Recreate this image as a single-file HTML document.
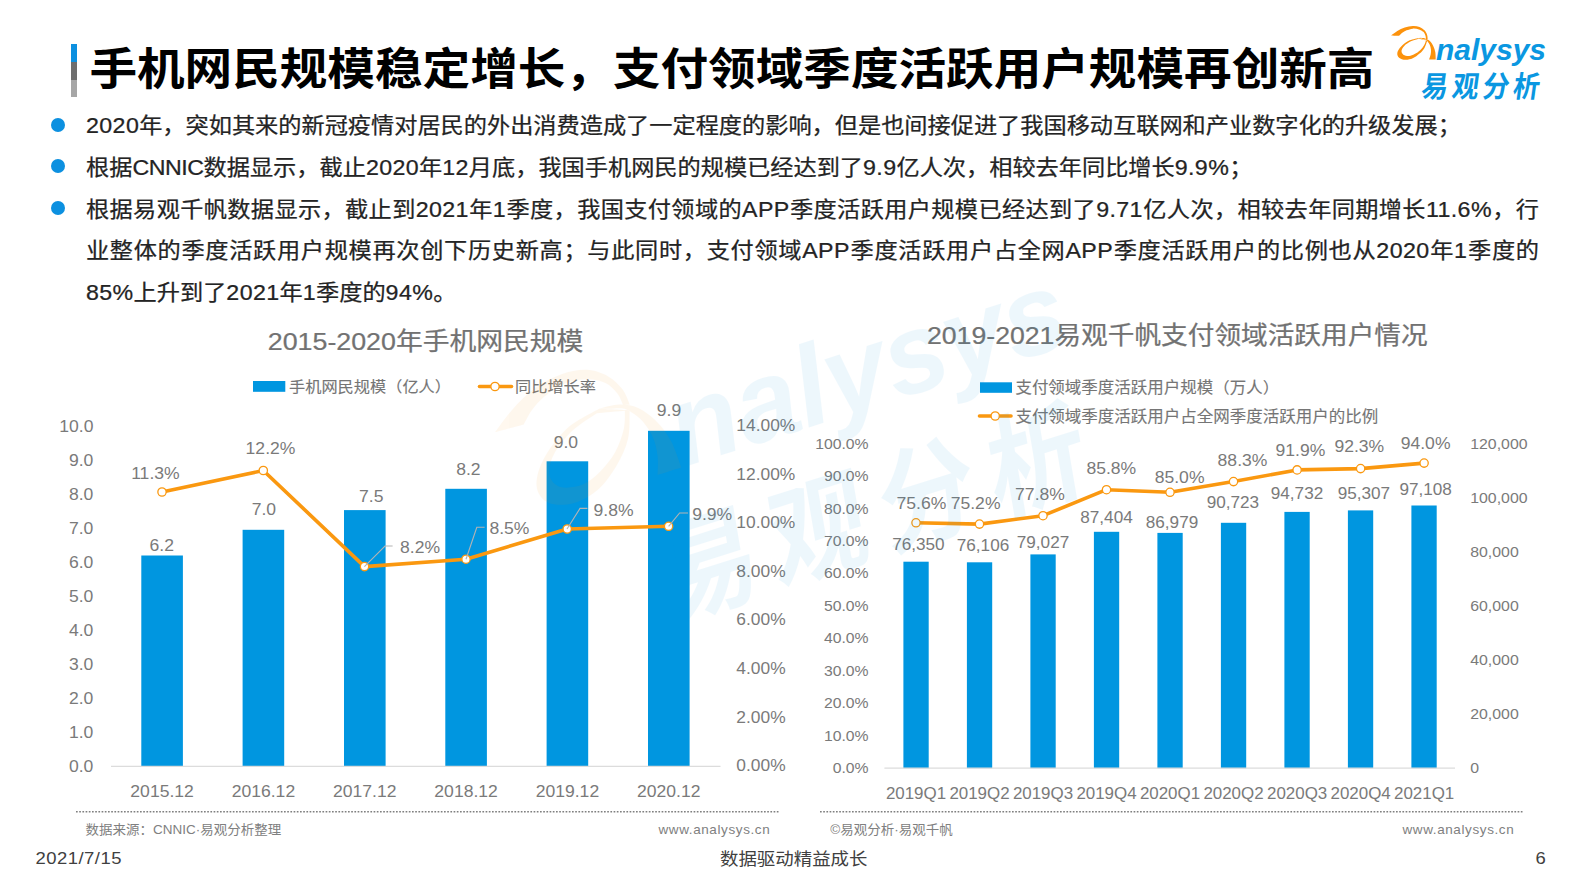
<!DOCTYPE html>
<html lang="zh-CN"><head><meta charset="utf-8"><title>手机网民规模稳定增长</title>
<style>
html,body{margin:0;padding:0;background:#fff;}
body{width:1587px;height:892px;position:relative;overflow:hidden;font-family:"Liberation Sans", "Noto Sans CJK SC", sans-serif;}
.abs{position:absolute;white-space:nowrap;}
#title{left:89.4px;top:35.3px;font-size:47.6px;font-weight:bold;color:#000;line-height:70px;transform:scale(1,0.932);transform-origin:0 50%;}
.bar{position:absolute;left:71px;width:6px;}
.bul{position:absolute;left:50.7px;width:14px;height:14px;border-radius:50%;background:#0C90E0;}
.p{position:absolute;left:86px;width:1453px;font-size:23.2px;line-height:41.7px;color:#242424;-webkit-text-stroke:0.26px #242424;white-space:nowrap;transform:scaleY(0.945);transform-origin:0 50%;}
.j{text-align:justify;text-align-last:justify;}
.l{letter-spacing:0.4px;}
svg text{font-family:"Liberation Sans", "Noto Sans CJK SC", sans-serif;}
.foot{font-size:18.45px;color:#404040;line-height:24px;transform:scaleY(0.94);}
.src{font-size:13.5px;color:#808080;line-height:18px;transform:scaleY(0.96);}
</style></head><body>
<div class="bar" style="top:44px;height:18px;background:#0C90E0"></div>
<div class="bar" style="top:62px;height:17.5px;background:#6E6E6E"></div>
<div class="bar" style="top:79.5px;height:17.5px;background:#A6A6A6"></div>
<div id="title" class="abs">手机网民规模稳定增长，支付领域季度活跃用户规模再创新高</div>
<div class="bul" style="top:117.7px"></div>
<div class="bul" style="top:159px"></div>
<div class="bul" style="top:201px"></div>
<div class="p" style="top:105.2px"><span class="l">2020</span>年，突如其来的新冠疫情对居民的外出消费造成了一定程度的影响，但是也间接促进了我国移动互联网和产业数字化的升级发展；</div>
<div class="p" style="top:146.9px">根据<span style="letter-spacing:-0.45px">CNNIC</span>数据显示，截止<span class="l">2020</span>年<span class="l">12</span>月底，我国手机网民的规模已经达到了<span class="l">9.9</span>亿人次，相较去年同比增长<span class="l">9.9%</span>；</div>
<div class="p j" style="top:188.6px">根据易观千帆数据显示，截止到<span class="l">2021</span>年<span class="l">1</span>季度，我国支付领域的<span class="l">APP</span>季度活跃用户规模已经达到了<span class="l">9.71</span>亿人次，相较去年同期增长<span class="l">11.6%</span>，行</div>
<div class="p j" style="top:230.3px">业整体的季度活跃用户规模再次创下历史新高；与此同时，支付领域<span class="l">APP</span>季度活跃用户占全网<span class="l">APP</span>季度活跃用户的比例也从<span class="l">2020</span>年<span class="l">1</span>季度的</div>
<div class="p" style="top:272px"><span class="l">85%</span>上升到了<span class="l">2021</span>年<span class="l">1</span>季度的<span class="l">94%</span>。</div>
<svg class="abs" style="left:0;top:0" width="1587" height="892" viewBox="0 0 1587 892" fill="#757575">
<rect x="141.3" y="555.5" width="41.6" height="210.9" fill="#0096E0"/>
<rect x="242.6" y="529.8" width="41.6" height="236.6" fill="#0096E0"/>
<rect x="344.0" y="510.1" width="41.6" height="256.3" fill="#0096E0"/>
<rect x="445.3" y="488.8" width="41.6" height="277.6" fill="#0096E0"/>
<rect x="546.6" y="461.3" width="41.6" height="305.1" fill="#0096E0"/>
<rect x="648.0" y="430.8" width="41.6" height="335.6" fill="#0096E0"/>
<line x1="111" y1="766.4" x2="720.5" y2="766.4" stroke="#DCDCDC" stroke-width="1.2"/>
<polyline points="162.0,492 263.3,470.5 364.5,566.6 466,559.2 567.2,529 668.6,526.3" fill="none" stroke="#FA9810" stroke-width="3.6" stroke-linejoin="round" stroke-linecap="round"/>
<circle cx="162.0" cy="492.0" r="4.15" fill="#fff" stroke="#FA9810" stroke-width="1.3"/>
<circle cx="263.3" cy="470.5" r="4.15" fill="#fff" stroke="#FA9810" stroke-width="1.3"/>
<circle cx="364.5" cy="566.6" r="4.15" fill="#fff" stroke="#FA9810" stroke-width="1.3"/>
<circle cx="466.0" cy="559.2" r="4.15" fill="#fff" stroke="#FA9810" stroke-width="1.3"/>
<circle cx="567.2" cy="529.0" r="4.15" fill="#fff" stroke="#FA9810" stroke-width="1.3"/>
<circle cx="668.6" cy="526.3" r="4.15" fill="#fff" stroke="#FA9810" stroke-width="1.3"/>
<g fill="none" stroke="#B3B3B3" stroke-width="1.1">
<polyline points="364.4,566.6 385,546 392.6,546"/>
<polyline points="466,559.2 476.8,527.3 484.6,527.3"/>
<polyline points="567,529 580,508.4 587.4,508.4"/>
<polyline points="668.6,526.3 679.6,513 688,513"/>
</g>
<text transform="translate(93.4 766.0) scale(1.04 0.96)" y="6.1" font-size="16.9" text-anchor="end" fill="#7A7A7A">0.0</text>
<text transform="translate(93.4 732.0) scale(1.04 0.96)" y="6.1" font-size="16.9" text-anchor="end" fill="#7A7A7A">1.0</text>
<text transform="translate(93.4 698.0) scale(1.04 0.96)" y="6.1" font-size="16.9" text-anchor="end" fill="#7A7A7A">2.0</text>
<text transform="translate(93.4 664.0) scale(1.04 0.96)" y="6.1" font-size="16.9" text-anchor="end" fill="#7A7A7A">3.0</text>
<text transform="translate(93.4 630.0) scale(1.04 0.96)" y="6.1" font-size="16.9" text-anchor="end" fill="#7A7A7A">4.0</text>
<text transform="translate(93.4 596.0) scale(1.04 0.96)" y="6.1" font-size="16.9" text-anchor="end" fill="#7A7A7A">5.0</text>
<text transform="translate(93.4 562.0) scale(1.04 0.96)" y="6.1" font-size="16.9" text-anchor="end" fill="#7A7A7A">6.0</text>
<text transform="translate(93.4 528.0) scale(1.04 0.96)" y="6.1" font-size="16.9" text-anchor="end" fill="#7A7A7A">7.0</text>
<text transform="translate(93.4 494.0) scale(1.04 0.96)" y="6.1" font-size="16.9" text-anchor="end" fill="#7A7A7A">8.0</text>
<text transform="translate(93.4 460.0) scale(1.04 0.96)" y="6.1" font-size="16.9" text-anchor="end" fill="#7A7A7A">9.0</text>
<text transform="translate(93.4 426.0) scale(1.04 0.96)" y="6.1" font-size="16.9" text-anchor="end" fill="#7A7A7A">10.0</text>
<text transform="translate(736.3 765.3) scale(1.03 0.96)" y="6.1" font-size="16.9" fill="#7A7A7A">0.00%</text>
<text transform="translate(736.3 716.7) scale(1.03 0.96)" y="6.1" font-size="16.9" fill="#7A7A7A">2.00%</text>
<text transform="translate(736.3 668.2) scale(1.03 0.96)" y="6.1" font-size="16.9" fill="#7A7A7A">4.00%</text>
<text transform="translate(736.3 619.6) scale(1.03 0.96)" y="6.1" font-size="16.9" fill="#7A7A7A">6.00%</text>
<text transform="translate(736.3 571.0) scale(1.03 0.96)" y="6.1" font-size="16.9" fill="#7A7A7A">8.00%</text>
<text transform="translate(736.3 522.4) scale(1.03 0.96)" y="6.1" font-size="16.9" fill="#7A7A7A">10.00%</text>
<text transform="translate(736.3 473.9) scale(1.03 0.96)" y="6.1" font-size="16.9" fill="#7A7A7A">12.00%</text>
<text transform="translate(736.3 425.3) scale(1.03 0.96)" y="6.1" font-size="16.9" fill="#7A7A7A">14.00%</text>
<text transform="translate(162.1 791.6) scale(1.04 0.96)" y="6.1" font-size="16.9" text-anchor="middle" fill="#7A7A7A">2015.12</text>
<text transform="translate(263.4 791.6) scale(1.04 0.96)" y="6.1" font-size="16.9" text-anchor="middle" fill="#7A7A7A">2016.12</text>
<text transform="translate(364.8 791.6) scale(1.04 0.96)" y="6.1" font-size="16.9" text-anchor="middle" fill="#7A7A7A">2017.12</text>
<text transform="translate(466.1 791.6) scale(1.04 0.96)" y="6.1" font-size="16.9" text-anchor="middle" fill="#7A7A7A">2018.12</text>
<text transform="translate(567.4 791.6) scale(1.04 0.96)" y="6.1" font-size="16.9" text-anchor="middle" fill="#7A7A7A">2019.12</text>
<text transform="translate(668.8 791.6) scale(1.04 0.96)" y="6.1" font-size="16.9" text-anchor="middle" fill="#7A7A7A">2020.12</text>
<text transform="translate(161.8 545.0) scale(1.04 0.96)" y="6.1" font-size="16.9" text-anchor="middle" fill="#7A7A7A">6.2</text>
<text transform="translate(263.9 508.8) scale(1.04 0.96)" y="6.1" font-size="16.9" text-anchor="middle" fill="#7A7A7A">7.0</text>
<text transform="translate(371.2 495.7) scale(1.04 0.96)" y="6.1" font-size="16.9" text-anchor="middle" fill="#7A7A7A">7.5</text>
<text transform="translate(468.4 468.8) scale(1.04 0.96)" y="6.1" font-size="16.9" text-anchor="middle" fill="#7A7A7A">8.2</text>
<text transform="translate(565.9 442.0) scale(1.04 0.96)" y="6.1" font-size="16.9" text-anchor="middle" fill="#7A7A7A">9.0</text>
<text transform="translate(669.0 410.0) scale(1.04 0.96)" y="6.1" font-size="16.9" text-anchor="middle" fill="#7A7A7A">9.9</text>
<text transform="translate(155.4 473.0) scale(1.04 0.96)" y="6.1" font-size="16.9" text-anchor="middle" fill="#7A7A7A">11.3%</text>
<text transform="translate(270.5 448.5) scale(1.04 0.96)" y="6.1" font-size="16.9" text-anchor="middle" fill="#7A7A7A">12.2%</text>
<text transform="translate(400.0 547.5) scale(1.04 0.96)" y="6.1" font-size="16.9" fill="#7A7A7A">8.2%</text>
<text transform="translate(489.4 528.6) scale(1.04 0.96)" y="6.1" font-size="16.9" fill="#7A7A7A">8.5%</text>
<text transform="translate(593.5 509.7) scale(1.04 0.96)" y="6.1" font-size="16.9" fill="#7A7A7A">9.8%</text>
<text transform="translate(692.2 514.0) scale(1.04 0.96)" y="6.1" font-size="16.9" fill="#7A7A7A">9.9%</text>
<text transform="translate(425.6 341.0) scale(1.015 0.94)" y="9.8" font-size="26.4" text-anchor="middle" fill="#727272" stroke="#727272" stroke-width="0.25">2015-2020年手机网民规模</text>
<rect x="253" y="381" width="32.3" height="10.8" fill="#0096E0"/>
<text transform="translate(289.0 386.5) scale(1.0 0.94)" y="6.0" font-size="16.2" stroke="#757575" stroke-width="0.12">手机网民规模（亿人）</text>
<line x1="479.5" y1="386.5" x2="511.5" y2="386.5" stroke="#FA9810" stroke-width="3.6" stroke-linecap="round"/>
<circle cx="495.0" cy="386.5" r="4.15" fill="#fff" stroke="#FA9810" stroke-width="1.3"/>
<text transform="translate(515.0 386.5) scale(1.0 0.94)" y="6.0" font-size="16.2" stroke="#757575" stroke-width="0.12">同比增长率</text>
<rect x="903.4" y="561.7" width="25.3" height="206.5" fill="#0096E0"/>
<rect x="966.9" y="562.3" width="25.3" height="205.9" fill="#0096E0"/>
<rect x="1030.4" y="554.4" width="25.3" height="213.8" fill="#0096E0"/>
<rect x="1093.9" y="531.8" width="25.3" height="236.4" fill="#0096E0"/>
<rect x="1157.4" y="532.9" width="25.3" height="235.3" fill="#0096E0"/>
<rect x="1220.9" y="522.8" width="25.3" height="245.4" fill="#0096E0"/>
<rect x="1284.4" y="511.9" width="25.3" height="256.3" fill="#0096E0"/>
<rect x="1347.9" y="510.4" width="25.3" height="257.8" fill="#0096E0"/>
<rect x="1411.4" y="505.5" width="25.3" height="262.7" fill="#0096E0"/>
<line x1="884.4" y1="768.2" x2="1455" y2="768.2" stroke="#DCDCDC" stroke-width="1.2"/>
<polyline points="916.0,522.8 979.5,524.1 1043.0,515.7 1106.5,489.7 1170.0,492.3 1233.5,481.6 1297.1,469.9 1360.6,468.6 1424.1,463.1" fill="none" stroke="#FA9810" stroke-width="3.6" stroke-linejoin="round" stroke-linecap="round"/>
<circle cx="916.0" cy="522.8" r="4.15" fill="#fff" stroke="#FA9810" stroke-width="1.3"/>
<circle cx="979.5" cy="524.1" r="4.15" fill="#fff" stroke="#FA9810" stroke-width="1.3"/>
<circle cx="1043.0" cy="515.7" r="4.15" fill="#fff" stroke="#FA9810" stroke-width="1.3"/>
<circle cx="1106.5" cy="489.7" r="4.15" fill="#fff" stroke="#FA9810" stroke-width="1.3"/>
<circle cx="1170.0" cy="492.3" r="4.15" fill="#fff" stroke="#FA9810" stroke-width="1.3"/>
<circle cx="1233.5" cy="481.6" r="4.15" fill="#fff" stroke="#FA9810" stroke-width="1.3"/>
<circle cx="1297.1" cy="469.9" r="4.15" fill="#fff" stroke="#FA9810" stroke-width="1.3"/>
<circle cx="1360.6" cy="468.6" r="4.15" fill="#fff" stroke="#FA9810" stroke-width="1.3"/>
<circle cx="1424.1" cy="463.1" r="4.15" fill="#fff" stroke="#FA9810" stroke-width="1.3"/>
<text transform="translate(868.5 767.7) scale(1.022 0.96)" y="5.5" font-size="15.4" text-anchor="end" fill="#7A7A7A">0.0%</text>
<text transform="translate(868.5 735.3) scale(1.022 0.96)" y="5.5" font-size="15.4" text-anchor="end" fill="#7A7A7A">10.0%</text>
<text transform="translate(868.5 702.9) scale(1.022 0.96)" y="5.5" font-size="15.4" text-anchor="end" fill="#7A7A7A">20.0%</text>
<text transform="translate(868.5 670.4) scale(1.022 0.96)" y="5.5" font-size="15.4" text-anchor="end" fill="#7A7A7A">30.0%</text>
<text transform="translate(868.5 638.0) scale(1.022 0.96)" y="5.5" font-size="15.4" text-anchor="end" fill="#7A7A7A">40.0%</text>
<text transform="translate(868.5 605.6) scale(1.022 0.96)" y="5.5" font-size="15.4" text-anchor="end" fill="#7A7A7A">50.0%</text>
<text transform="translate(868.5 573.2) scale(1.022 0.96)" y="5.5" font-size="15.4" text-anchor="end" fill="#7A7A7A">60.0%</text>
<text transform="translate(868.5 540.8) scale(1.022 0.96)" y="5.5" font-size="15.4" text-anchor="end" fill="#7A7A7A">70.0%</text>
<text transform="translate(868.5 508.3) scale(1.022 0.96)" y="5.5" font-size="15.4" text-anchor="end" fill="#7A7A7A">80.0%</text>
<text transform="translate(868.5 475.9) scale(1.022 0.96)" y="5.5" font-size="15.4" text-anchor="end" fill="#7A7A7A">90.0%</text>
<text transform="translate(868.5 443.5) scale(1.022 0.96)" y="5.5" font-size="15.4" text-anchor="end" fill="#7A7A7A">100.0%</text>
<text transform="translate(1470.2 768.0) scale(1.03 0.96)" y="5.5" font-size="15.4" fill="#7A7A7A">0</text>
<text transform="translate(1470.2 713.9) scale(1.03 0.96)" y="5.5" font-size="15.4" fill="#7A7A7A">20,000</text>
<text transform="translate(1470.2 659.8) scale(1.03 0.96)" y="5.5" font-size="15.4" fill="#7A7A7A">40,000</text>
<text transform="translate(1470.2 605.7) scale(1.03 0.96)" y="5.5" font-size="15.4" fill="#7A7A7A">60,000</text>
<text transform="translate(1470.2 551.6) scale(1.03 0.96)" y="5.5" font-size="15.4" fill="#7A7A7A">80,000</text>
<text transform="translate(1470.2 497.5) scale(1.03 0.96)" y="5.5" font-size="15.4" fill="#7A7A7A">100,000</text>
<text transform="translate(1470.2 443.4) scale(1.03 0.96)" y="5.5" font-size="15.4" fill="#7A7A7A">120,000</text>
<text transform="translate(916.0 793.7) scale(1.02 0.96)" y="5.9" font-size="16.6" text-anchor="middle" fill="#7A7A7A">2019Q1</text>
<text transform="translate(979.5 793.7) scale(1.02 0.96)" y="5.9" font-size="16.6" text-anchor="middle" fill="#7A7A7A">2019Q2</text>
<text transform="translate(1043.0 793.7) scale(1.02 0.96)" y="5.9" font-size="16.6" text-anchor="middle" fill="#7A7A7A">2019Q3</text>
<text transform="translate(1106.5 793.7) scale(1.02 0.96)" y="5.9" font-size="16.6" text-anchor="middle" fill="#7A7A7A">2019Q4</text>
<text transform="translate(1170.0 793.7) scale(1.02 0.96)" y="5.9" font-size="16.6" text-anchor="middle" fill="#7A7A7A">2020Q1</text>
<text transform="translate(1233.5 793.7) scale(1.02 0.96)" y="5.9" font-size="16.6" text-anchor="middle" fill="#7A7A7A">2020Q2</text>
<text transform="translate(1297.1 793.7) scale(1.02 0.96)" y="5.9" font-size="16.6" text-anchor="middle" fill="#7A7A7A">2020Q3</text>
<text transform="translate(1360.6 793.7) scale(1.02 0.96)" y="5.9" font-size="16.6" text-anchor="middle" fill="#7A7A7A">2020Q4</text>
<text transform="translate(1424.1 793.7) scale(1.02 0.96)" y="5.9" font-size="16.6" text-anchor="middle" fill="#7A7A7A">2021Q1</text>
<text transform="translate(921.4 503.6) scale(1.04 0.96)" y="6.1" font-size="16.9" text-anchor="middle" fill="#7A7A7A">75.6%</text>
<text transform="translate(975.6 503.0) scale(1.04 0.96)" y="6.1" font-size="16.9" text-anchor="middle" fill="#7A7A7A">75.2%</text>
<text transform="translate(1040.0 493.8) scale(1.04 0.96)" y="6.1" font-size="16.9" text-anchor="middle" fill="#7A7A7A">77.8%</text>
<text transform="translate(1111.3 468.6) scale(1.04 0.96)" y="6.1" font-size="16.9" text-anchor="middle" fill="#7A7A7A">85.8%</text>
<text transform="translate(1179.6 477.4) scale(1.04 0.96)" y="6.1" font-size="16.9" text-anchor="middle" fill="#7A7A7A">85.0%</text>
<text transform="translate(1242.5 460.3) scale(1.04 0.96)" y="6.1" font-size="16.9" text-anchor="middle" fill="#7A7A7A">88.3%</text>
<text transform="translate(1300.4 450.2) scale(1.04 0.96)" y="6.1" font-size="16.9" text-anchor="middle" fill="#7A7A7A">91.9%</text>
<text transform="translate(1359.3 445.7) scale(1.04 0.96)" y="6.1" font-size="16.9" text-anchor="middle" fill="#7A7A7A">92.3%</text>
<text transform="translate(1425.6 442.7) scale(1.04 0.96)" y="6.1" font-size="16.9" text-anchor="middle" fill="#7A7A7A">94.0%</text>
<text transform="translate(918.4 544.0) scale(1.04 0.96)" y="5.9" font-size="16.5" text-anchor="middle" fill="#7A7A7A">76,350</text>
<text transform="translate(983.0 545.0) scale(1.04 0.96)" y="5.9" font-size="16.5" text-anchor="middle" fill="#7A7A7A">76,106</text>
<text transform="translate(1043.0 542.2) scale(1.04 0.96)" y="5.9" font-size="16.5" text-anchor="middle" fill="#7A7A7A">79,027</text>
<text transform="translate(1106.5 517.0) scale(1.04 0.96)" y="5.9" font-size="16.5" text-anchor="middle" fill="#7A7A7A">87,404</text>
<text transform="translate(1172.0 522.0) scale(1.04 0.96)" y="5.9" font-size="16.5" text-anchor="middle" fill="#7A7A7A">86,979</text>
<text transform="translate(1232.9 502.4) scale(1.04 0.96)" y="5.9" font-size="16.5" text-anchor="middle" fill="#7A7A7A">90,723</text>
<text transform="translate(1297.0 493.0) scale(1.04 0.96)" y="5.9" font-size="16.5" text-anchor="middle" fill="#7A7A7A">94,732</text>
<text transform="translate(1363.9 493.0) scale(1.04 0.96)" y="5.9" font-size="16.5" text-anchor="middle" fill="#7A7A7A">95,307</text>
<text transform="translate(1425.6 489.8) scale(1.04 0.96)" y="5.9" font-size="16.5" text-anchor="middle" fill="#7A7A7A">97,108</text>
<text transform="translate(1177.3 335.0) scale(1.01 0.94)" y="9.8" font-size="26.4" text-anchor="middle" fill="#727272" stroke="#727272" stroke-width="0.25">2019-2021易观千帆支付领域活跃用户情况</text>
<rect x="980" y="382.3" width="32" height="10.5" fill="#0096E0"/>
<text transform="translate(1015.4 386.9) scale(1.0 0.94)" y="6.1" font-size="16.5" stroke="#757575" stroke-width="0.12">支付领域季度活跃用户规模（万人）</text>
<line x1="979.5" y1="416" x2="1011" y2="416" stroke="#FA9810" stroke-width="3.6" stroke-linecap="round"/>
<circle cx="995.2" cy="416.0" r="4.15" fill="#fff" stroke="#FA9810" stroke-width="1.3"/>
<text transform="translate(1015.4 416.0) scale(1.0 0.94)" y="6.1" font-size="16.5" stroke="#757575" stroke-width="0.12">支付领域季度活跃用户占全网季度活跃用户的比例</text>
<line x1="76" y1="811.7" x2="780" y2="811.7" stroke="#808080" stroke-width="1.5" stroke-dasharray="1.7 1.5"/>
<line x1="820" y1="811.7" x2="1523.5" y2="811.7" stroke="#808080" stroke-width="1.5" stroke-dasharray="1.7 1.5"/>
<g transform="translate(1380 10)">
<path d="M11.17 25.42 C12.20 24.70 15.08 22.42 17.34 21.10 C19.60 19.79 22.17 18.37 24.74 17.53 C27.31 16.68 30.29 16.14 32.76 16.05 C35.23 15.95 37.59 16.25 39.55 16.97 C41.50 17.69 43.23 19.06 44.48 20.36 C45.74 21.67 46.54 23.33 47.07 24.81 C47.61 26.29 47.59 28.51 47.69 29.25 C47.40 29.19 46.25 28.94 45.96 28.88 C45.87 28.30 45.86 26.59 45.41 25.42 C44.95 24.25 44.33 22.85 43.25 21.84 C42.17 20.84 40.68 19.91 38.93 19.38 C37.18 18.84 34.82 18.47 32.76 18.64 C30.70 18.80 28.34 19.66 26.59 20.36 C24.84 21.06 23.53 21.93 22.27 22.83 C21.02 23.74 19.60 25.30 19.07 25.79 C17.75 25.73 12.49 25.48 11.17 25.42 Z" fill="#FC920C"/>
<path d="M39.55 27.89 C37.90 28.30 32.74 28.94 29.68 30.36 C26.61 31.78 23.22 34.35 21.16 36.40 C19.11 38.46 17.69 40.80 17.34 42.70 C16.99 44.59 17.73 46.56 19.07 47.75 C20.40 48.95 23.08 49.75 25.36 49.85 C27.64 49.95 30.40 49.41 32.76 48.37 C35.13 47.33 37.59 45.37 39.55 43.62 C41.50 41.87 43.21 40.03 44.48 37.88 C45.76 35.74 46.74 31.92 47.20 30.73 C45.92 30.25 40.82 28.36 39.55 27.89 Z M45.96 30.48 C45.67 31.23 45.20 33.36 44.24 34.98 C43.27 36.61 41.77 38.72 40.16 40.23 C38.56 41.74 36.46 43.11 34.61 44.05 C32.76 45.00 30.93 45.80 29.06 45.90 C27.19 46.01 24.64 45.51 23.38 44.67 C22.13 43.83 21.39 42.31 21.53 40.85 C21.68 39.39 22.68 37.49 24.25 35.91 C25.81 34.33 28.51 32.53 30.91 31.34 C33.31 30.16 37.34 29.24 38.62 28.82 C39.84 29.09 44.74 30.20 45.96 30.48 Z" fill="#FC920C" fill-rule="evenodd"/>
<path d="M39.55 27.83 C40.47 27.93 43.43 27.94 45.10 28.45 C46.76 28.95 48.18 29.61 49.54 30.85 C50.90 32.10 52.29 34.04 53.24 35.91 C54.20 37.78 54.87 39.82 55.28 42.08 C55.69 44.34 55.64 48.25 55.71 49.48 C54.61 49.48 50.21 49.48 49.11 49.48 C49.37 48.66 50.34 46.19 50.65 44.55 C50.96 42.90 51.11 41.24 50.96 39.61 C50.81 37.99 50.29 36.16 49.73 34.80 C49.16 33.44 48.29 32.33 47.57 31.47 C46.85 30.60 46.33 30.08 45.41 29.62 C44.48 29.15 42.99 28.99 42.01 28.69 C41.04 28.39 39.96 27.97 39.55 27.83 Z" fill="#FC920C"/>
<text x="56" y="49.6" font-family='"Liberation Sans", "Noto Sans CJK SC", sans-serif' font-size="30.4" font-style="italic" font-weight="bold" fill="#0A97E1" textLength="110" lengthAdjust="spacingAndGlyphs">nalysys</text>
<text transform="translate(40.3 87) skewX(-8) scale(0.9 1)" font-family='"Liberation Sans", "Noto Sans CJK SC", sans-serif' font-size="29.5" font-weight="bold" fill="#0A97E1" style="letter-spacing:4.5px">易观分析</text>
</g>
<g transform="translate(426.6 354.1) rotate(-17.6) scale(3.74)" opacity="0.066">
<path d="M11.17 25.42 C12.20 24.70 15.08 22.42 17.34 21.10 C19.60 19.79 22.17 18.37 24.74 17.53 C27.31 16.68 30.29 16.14 32.76 16.05 C35.23 15.95 37.59 16.25 39.55 16.97 C41.50 17.69 43.23 19.06 44.48 20.36 C45.74 21.67 46.54 23.33 47.07 24.81 C47.61 26.29 47.59 28.51 47.69 29.25 C47.40 29.19 46.25 28.94 45.96 28.88 C45.87 28.30 45.86 26.59 45.41 25.42 C44.95 24.25 44.33 22.85 43.25 21.84 C42.17 20.84 40.68 19.91 38.93 19.38 C37.18 18.84 34.82 18.47 32.76 18.64 C30.70 18.80 28.34 19.66 26.59 20.36 C24.84 21.06 23.53 21.93 22.27 22.83 C21.02 23.74 19.60 25.30 19.07 25.79 C17.75 25.73 12.49 25.48 11.17 25.42 Z" fill="#FC920C"/>
<path d="M39.55 27.89 C37.90 28.30 32.74 28.94 29.68 30.36 C26.61 31.78 23.22 34.35 21.16 36.40 C19.11 38.46 17.69 40.80 17.34 42.70 C16.99 44.59 17.73 46.56 19.07 47.75 C20.40 48.95 23.08 49.75 25.36 49.85 C27.64 49.95 30.40 49.41 32.76 48.37 C35.13 47.33 37.59 45.37 39.55 43.62 C41.50 41.87 43.21 40.03 44.48 37.88 C45.76 35.74 46.74 31.92 47.20 30.73 C45.92 30.25 40.82 28.36 39.55 27.89 Z M45.96 30.48 C45.67 31.23 45.20 33.36 44.24 34.98 C43.27 36.61 41.77 38.72 40.16 40.23 C38.56 41.74 36.46 43.11 34.61 44.05 C32.76 45.00 30.93 45.80 29.06 45.90 C27.19 46.01 24.64 45.51 23.38 44.67 C22.13 43.83 21.39 42.31 21.53 40.85 C21.68 39.39 22.68 37.49 24.25 35.91 C25.81 34.33 28.51 32.53 30.91 31.34 C33.31 30.16 37.34 29.24 38.62 28.82 C39.84 29.09 44.74 30.20 45.96 30.48 Z" fill="#FC920C" fill-rule="evenodd"/>
<path d="M39.55 27.83 C40.47 27.93 43.43 27.94 45.10 28.45 C46.76 28.95 48.18 29.61 49.54 30.85 C50.90 32.10 52.29 34.04 53.24 35.91 C54.20 37.78 54.87 39.82 55.28 42.08 C55.69 44.34 55.64 48.25 55.71 49.48 C54.61 49.48 50.21 49.48 49.11 49.48 C49.37 48.66 50.34 46.19 50.65 44.55 C50.96 42.90 51.11 41.24 50.96 39.61 C50.81 37.99 50.29 36.16 49.73 34.80 C49.16 33.44 48.29 32.33 47.57 31.47 C46.85 30.60 46.33 30.08 45.41 29.62 C44.48 29.15 42.99 28.99 42.01 28.69 C41.04 28.39 39.96 27.97 39.55 27.83 Z" fill="#FC920C"/>
<text x="56" y="49.6" font-family='"Liberation Sans", "Noto Sans CJK SC", sans-serif' font-size="30.4" font-style="italic" font-weight="bold" fill="#0A97E1" textLength="110" lengthAdjust="spacingAndGlyphs">nalysys</text>
<text transform="translate(40.3 87) skewX(-8) scale(0.9 1)" font-family='"Liberation Sans", "Noto Sans CJK SC", sans-serif' font-size="29.5" font-weight="bold" fill="#0A97E1" style="letter-spacing:4.5px">易观分析</text>
</g>
</svg>
<div class="abs src" style="left:85.5px;top:820.5px">数据来源：CNNIC·易观分析整理</div>
<div class="abs src" style="left:658.5px;top:821px;letter-spacing:0.6px">www.analysys.cn</div>
<div class="abs src" style="left:830.2px;top:820.5px">©易观分析·易观千帆</div>
<div class="abs src" style="left:1402.5px;top:821px;letter-spacing:0.6px">www.analysys.cn</div>
<div class="abs foot" style="left:35.4px;top:846px;letter-spacing:0.5px">2021/7/15</div>
<div class="abs foot" style="left:720px;top:847px">数据驱动精益成长</div>
<div class="abs foot" style="left:1535.5px;top:846px">6</div>
</body></html>
